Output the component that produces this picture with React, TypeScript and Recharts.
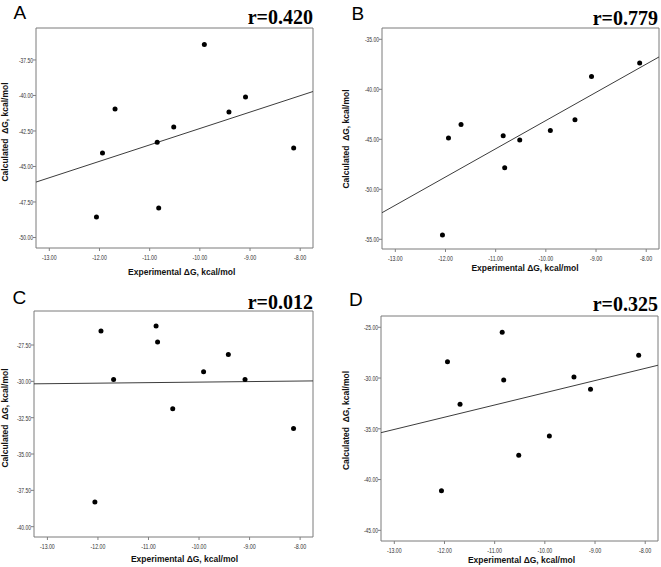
import React from 'react';
import { ScatterChart, Scatter, XAxis, YAxis, ReferenceArea, ReferenceLine } from 'recharts';

// Experimental ΔG (kcal/mol), shared by all four panels
const expDG = [-12.06, -11.94, -11.69, -10.85, -10.82, -10.52, -9.91, -9.42, -9.09, -8.13];
// Calculated ΔG (kcal/mol) per panel
const calcA = [-48.56, -44.05, -40.95, -43.3, -47.92, -42.22, -36.42, -41.16, -40.11, -43.7];
const calcB = [-54.56, -44.88, -43.52, -44.65, -47.84, -45.08, -44.11, -43.05, -38.73, -37.36];
const calcC = [-38.3, -26.54, -29.87, -26.19, -27.29, -31.89, -29.34, -28.15, -29.87, -33.25];
const calcD = [-41.1, -28.39, -32.59, -25.49, -30.19, -37.61, -35.71, -29.9, -31.11, -27.76];

const xTicks = [-13, -12, -11, -10, -9, -8];
const yTicksA = [-50, -47.5, -45, -42.5, -40, -37.5];
const yTicksB = [-55, -50, -45, -40, -35];
const yTicksC = [-40, -37.5, -35, -32.5, -30, -27.5];
const yTicksD = [-45, -40, -35, -30, -25];

const panelLetters = ['A', 'B', 'C', 'D'];
const rLabels = ['r=0.420', 'r=0.779', 'r=0.012', 'r=0.325'];
const xTitle = 'Experimental ΔG, kcal/mol';
const yTitle = 'Calculated  ΔG, kcal/mol';

const X_DOMAIN: [number, number] = [-13.265, -7.745];

function fitLine(xs: number[], ys: number[]) {
  const n = xs.length;
  const mx = xs.reduce((a, b) => a + b, 0) / n;
  const my = ys.reduce((a, b) => a + b, 0) / n;
  let sxy = 0;
  let sxx = 0;
  for (let i = 0; i < n; i++) {
    sxy += (xs[i] - mx) * (ys[i] - my);
    sxx += (xs[i] - mx) * (xs[i] - mx);
  }
  const slope = sxy / sxx;
  return { slope, intercept: my - slope * mx };
}

const TICK_FONT = '"Liberation Sans", Arial, sans-serif';

const XTick = (props: any) => {
  const label = Number(props.payload.value).toFixed(2);
  return (
    <text
      x={props.x}
      y={props.y + 7.5}
      textAnchor="middle"
      fontSize={8}
      fontFamily={TICK_FONT}
      fill="#333"
      textLength={label.length * 2.45}
      lengthAdjust="spacingAndGlyphs"
    >
      {label}
    </text>
  );
};

const YTick = (props: any) => {
  const label = Number(props.payload.value).toFixed(2);
  return (
    <text
      x={props.x}
      y={props.y + 2.9}
      textAnchor="end"
      fontSize={8}
      fontFamily={TICK_FONT}
      fill="#333"
      textLength={label.length * 2.35}
      lengthAdjust="spacingAndGlyphs"
    >
      {label}
    </text>
  );
};

const Dot = (props: any) => <circle cx={props.cx} cy={props.cy} r={2.5} fill="#000" />;

type PanelCfg = {
  ys: number[];
  yTicks: number[];
  yDomain: [number, number];
  ox: number;
  oy: number;
  w: number;
  h: number;
  l: number;
  t: number;
  r: number;
  b: number;
};

const panels: PanelCfg[] = [
  { ys: calcA, yTicks: yTicksA, yDomain: [-50.74, -35.25], ox: 0, oy: 0, w: 330, h: 283, l: 36, t: 28, r: 313, b: 248 },
  { ys: calcB, yTicks: yTicksB, yDomain: [-55.97, -33.87], ox: 330, oy: 0, w: 331, h: 283, l: 52, t: 28, r: 329, b: 249 },
  { ys: calcC, yTicks: yTicksC, yDomain: [-40.71, -25.16], ox: 0, oy: 283, w: 330, h: 284, l: 34, t: 28, r: 313, b: 254 },
  { ys: calcD, yTicks: yTicksD, yDomain: [-46.05, -23.89], ox: 330, oy: 283, w: 331, h: 284, l: 51, t: 33, r: 328, b: 258 },
];

// text placement (page coordinates)
const letterPos = [
  { x: 13.5, y: 18.5 },
  { x: 351.5, y: 20 },
  { x: 12.5, y: 304 },
  { x: 349, y: 305.5 },
];
const rPos = [
  { x: 313, y: 24 },
  { x: 658, y: 25 },
  { x: 313, y: 309 },
  { x: 658, y: 311 },
];
const xTitlePos = [
  { x: 181.7, y: 272 },
  { x: 525, y: 268.5 },
  { x: 184.5, y: 559 },
  { x: 521.5, y: 560.5 },
];
const yTitlePos = [
  { x: 5.5, y: 132 },
  { x: 347, y: 139 },
  { x: 5.5, y: 418 },
  { x: 347, y: 420.5 },
];

const X_AXIS_H = 20;

function Panel({ cfg }: { cfg: PanelCfg }) {
  const data = expDG.map((x, i) => ({ x, y: cfg.ys[i] }));
  const { slope, intercept } = fitLine(expDG, cfg.ys);
  const seg = [
    { x: X_DOMAIN[0], y: slope * X_DOMAIN[0] + intercept },
    { x: X_DOMAIN[1], y: slope * X_DOMAIN[1] + intercept },
  ];
  return (
    <div style={{ position: 'absolute', left: cfg.ox, top: cfg.oy, width: cfg.w, height: cfg.h }}>
      <ScatterChart
        width={cfg.w}
        height={cfg.h}
        margin={{ top: cfg.t, right: cfg.w - cfg.r, bottom: cfg.h - cfg.b - X_AXIS_H, left: 4 }}
      >
        <XAxis
          type="number"
          dataKey="x"
          domain={X_DOMAIN}
          ticks={xTicks}
          interval={0}
          allowDataOverflow
          axisLine={false}
          tickLine={{ stroke: '#808080' }}
          tickSize={3}
          tickMargin={1}
          height={X_AXIS_H}
          tick={XTick}
        />
        <YAxis
          type="number"
          dataKey="y"
          domain={cfg.yDomain}
          ticks={cfg.yTicks}
          interval={0}
          allowDataOverflow
          axisLine={false}
          tickLine={{ stroke: '#808080' }}
          tickSize={3}
          tickMargin={0}
          width={cfg.l - 4}
          tick={YTick}
        />
        <ReferenceArea
          x1={X_DOMAIN[0]}
          x2={X_DOMAIN[1]}
          y1={cfg.yDomain[0]}
          y2={cfg.yDomain[1]}
          fill="none"
          stroke="#7a7a7a"
          strokeWidth={1}
          ifOverflow="visible"
        />
        <ReferenceLine segment={seg} stroke="#3c3c3c" strokeWidth={1} ifOverflow="visible" />
        <Scatter data={data} isAnimationActive={false} shape={Dot} />
      </ScatterChart>
    </div>
  );
}

export default function App() {
  return (
    <div style={{ position: 'absolute', left: 0, top: 0, width: 661, height: 567, background: '#fff' }}>
      {panels.map((p, i) => (
        <Panel key={i} cfg={p} />
      ))}
      <svg width={661} height={567} style={{ position: 'absolute', left: 0, top: 0, pointerEvents: 'none' }}>
        {panelLetters.map((L, i) => (
          <text
            key={'l' + i}
            x={letterPos[i].x}
            y={letterPos[i].y}
            fontSize={19}
            fontFamily='"Liberation Sans", Arial, sans-serif'
            fill="#000"
          >
            {L}
          </text>
        ))}
        {rLabels.map((r, i) => (
          <text
            key={'r' + i}
            x={rPos[i].x}
            y={rPos[i].y}
            textAnchor="end"
            fontSize={20}
            fontWeight="bold"
            fontFamily='"Liberation Serif", "Times New Roman", serif'
            fill="#000"
          >
            {r}
          </text>
        ))}
        {xTitlePos.map((p, i) => (
          <text
            key={'x' + i}
            x={p.x}
            y={p.y + 2.5}
            textAnchor="middle"
            fontSize={8.5}
            fontWeight="bold"
            fontFamily={TICK_FONT}
            fill="#111"
          >
            {xTitle}
          </text>
        ))}
        {yTitlePos.map((p, i) => (
          <text
            key={'y' + i}
            transform={`translate(${p.x + 2.4},${p.y}) rotate(-90)`}
            textAnchor="middle"
            fontSize={8.5}
            fontWeight="bold"
            fontFamily={TICK_FONT}
            fill="#111"
            style={{ whiteSpace: 'pre' }}
          >
            {yTitle}
          </text>
        ))}
      </svg>
    </div>
  );
}
